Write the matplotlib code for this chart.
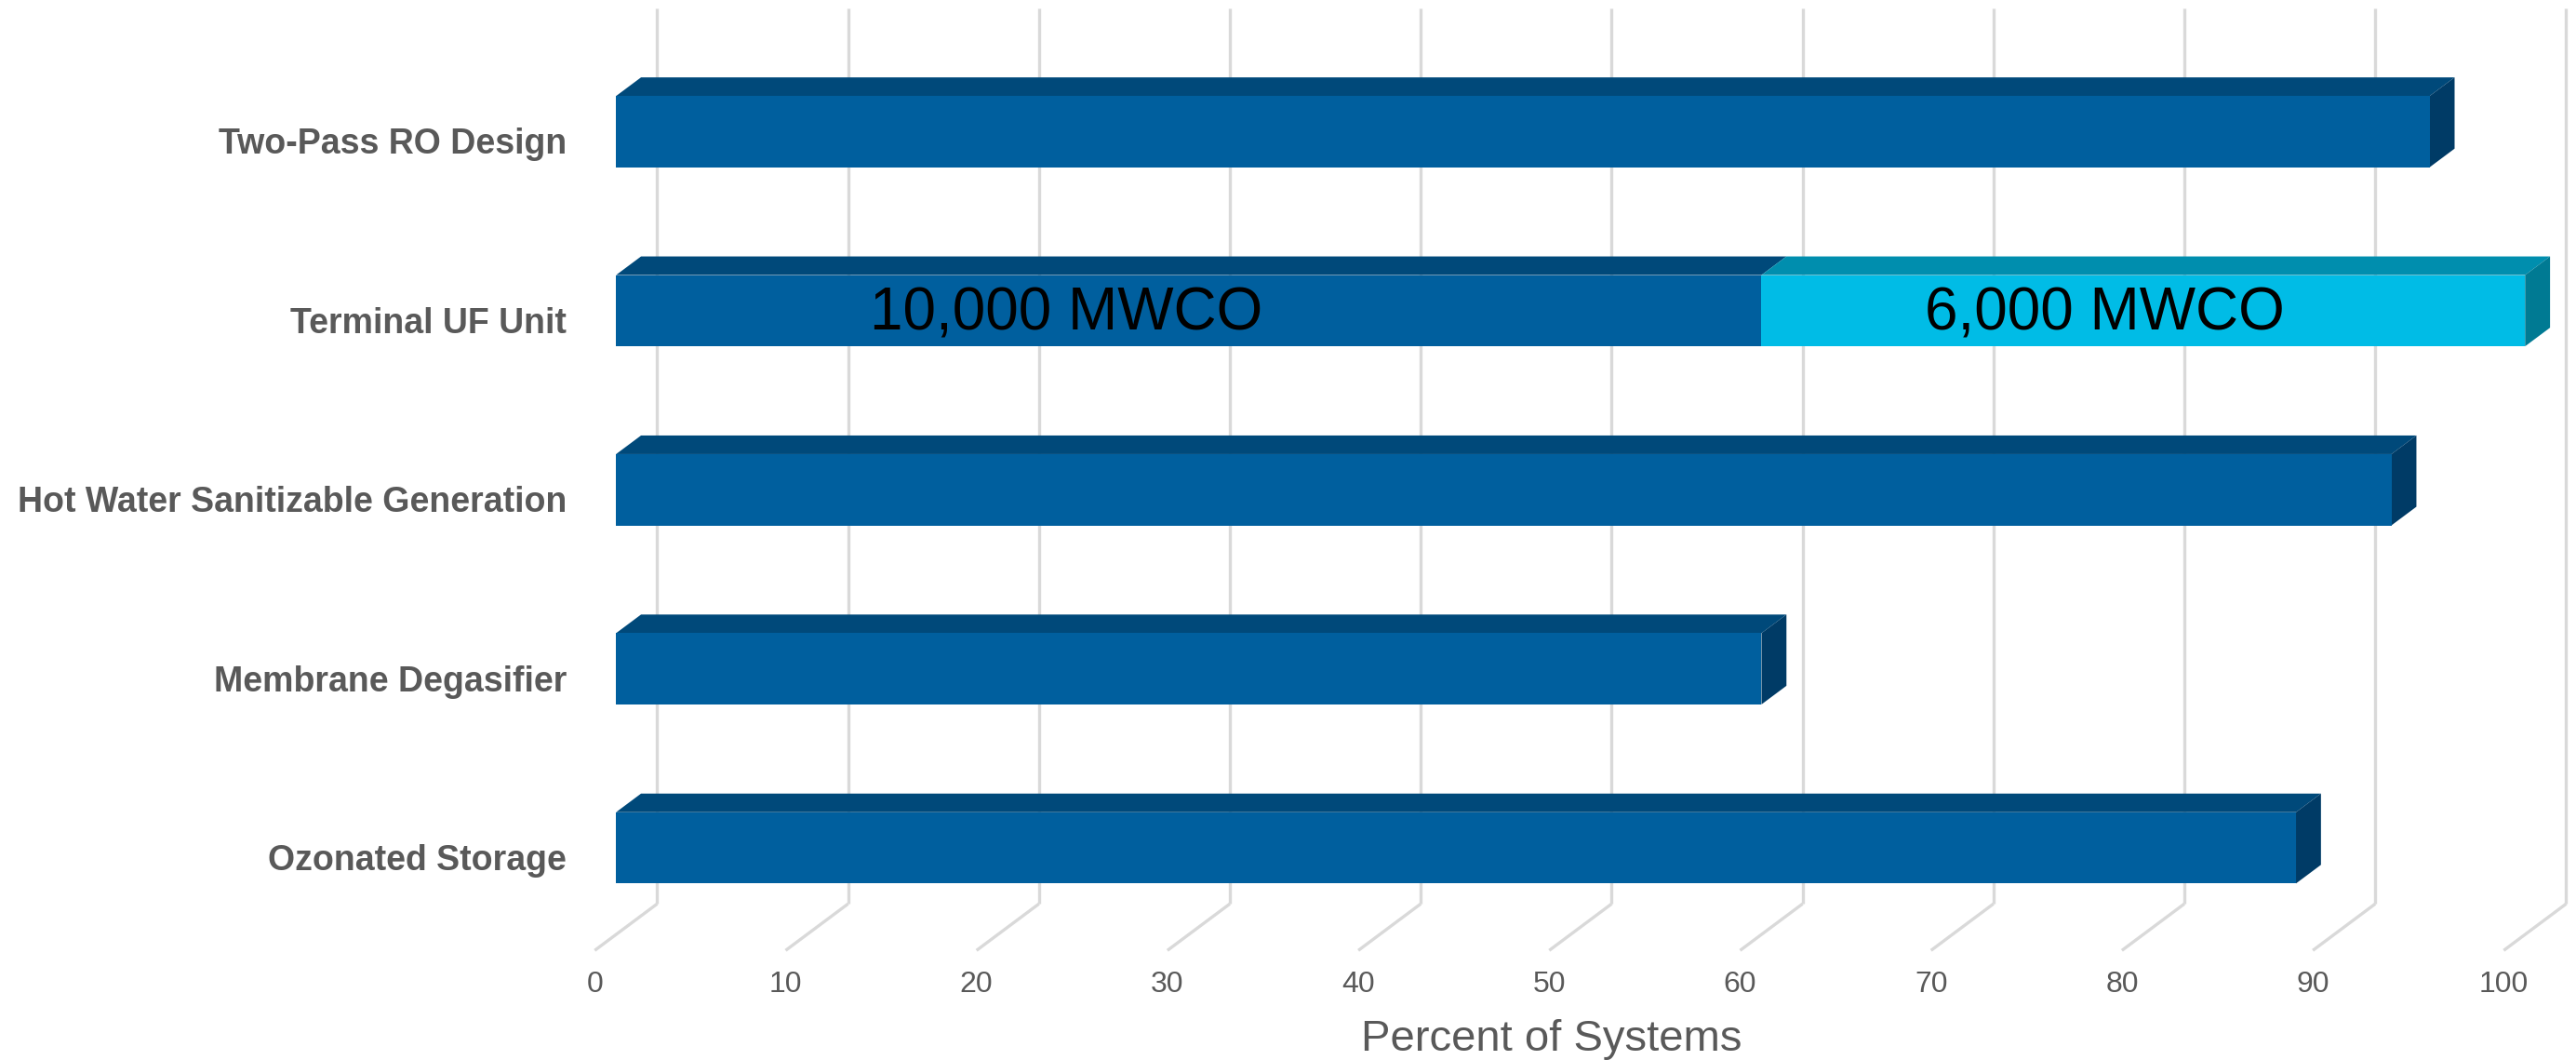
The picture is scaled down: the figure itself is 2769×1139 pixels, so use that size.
import matplotlib
matplotlib.use("Agg")
import matplotlib.pyplot as plt
from matplotlib.patches import Polygon

# ---------------- data ----------------
categories = ["Two-Pass RO Design", "Terminal UF Unit",
              "Hot Water Sanitizable Generation", "Membrane Degasifier",
              "Ozonated Storage"]
series_main = [95, 60, 93, 60, 88]          # dark blue segment
series_extra = [0, 40, 0, 0, 0]             # light blue stacked segment
segment_labels = ["10,000 MWCO", "6,000 MWCO"]
segment_label_x = [23.6, 78.0]
x_ticks = [0, 10, 20, 30, 40, 50, 60, 70, 80, 90, 100]
x_title = "Percent of Systems"

# ---------------- style / geometry ----------------
W, H, DPI = 2769, 1139, 100
C_FRONT, C_TOP, C_SIDE = "#005F9E", "#00497A", "#003B66"
C2_FRONT, C2_TOP, C2_SIDE = "#00BCE6", "#008EAE", "#007A93"
GRID = "#D9D9D9"
TXT = "#595959"
FONT = "Liberation Sans"

DX = 3.27      # horizontal shift (x units) per full floor depth
DY = 0.26      # vertical shift (category units) per full floor depth
D_FRONT, D_BACK = -0.342, 0.658   # floor front / back depth
BAR_DEPTH = 0.40
HALF_H = 0.199
Y_FLOOR = -0.484
Y_GRID_TOP = 4.689

fig = plt.figure(figsize=(W / DPI, H / DPI), dpi=DPI)
ax = fig.add_axes([0, 0, 1, 1])
ax.set_xlim(-375 / 11.62, (1568 - 375) / 11.62)
ax.set_ylim((515.9 - 645) / 108.95, 515.9 / 108.95)
ax.axis("off")

n = len(categories)
ypos = [n - 1 - i for i in range(n)]

# back-wall gridlines and floor lines
for t in x_ticks:
    xb = t + DX * D_BACK
    yb = Y_FLOOR + DY * D_BACK
    ax.plot([xb, xb], [yb, Y_GRID_TOP], color=GRID, lw=2.4,
            solid_capstyle="butt", zorder=1)
    xf = t + DX * D_FRONT
    yf = Y_FLOOR + DY * D_FRONT
    ax.plot([xf, xb], [yf, yb], color=GRID, lw=2.4,
            solid_capstyle="butt", zorder=1)
    ax.text(xf, -0.765, str(t), ha="center", va="center",
            fontsize=23, color=TXT, family=FONT)


def bar3d(x0, x1, yc, cf, ct, cs, side=True):
    dx, dy = DX * BAR_DEPTH, DY * BAR_DEPTH
    yb, yt = yc - HALF_H, yc + HALF_H
    ax.add_patch(Polygon([(x0, yt), (x1, yt), (x1 + dx, yt + dy),
                          (x0 + dx, yt + dy)], closed=True, fc=ct,
                         ec="none", zorder=3))
    if side:
        ax.add_patch(Polygon([(x1, yb), (x1 + dx, yb + dy),
                              (x1 + dx, yt + dy), (x1, yt)], closed=True,
                             fc=cs, ec="none", zorder=3))
    ax.add_patch(Polygon([(x0, yb), (x1, yb), (x1, yt), (x0, yt)],
                         closed=True, fc=cf, ec="none", zorder=4))


for i, (cat, v1, v2) in enumerate(zip(categories, series_main, series_extra)):
    y = ypos[i]
    bar3d(0, v1, y, C_FRONT, C_TOP, C_SIDE, side=(v2 == 0))
    if v2 > 0:
        bar3d(v1, v1 + v2, y, C2_FRONT, C2_TOP, C2_SIDE)
        ax.text(segment_label_x[0], y - 0.02, segment_labels[0], ha="center",
                va="center", fontsize=46, color="black", family=FONT,
                zorder=6)
        ax.text(segment_label_x[1], y - 0.02, segment_labels[1], ha="center",
                va="center", fontsize=46, color="black", family=FONT,
                zorder=6)
    ax.text(-2.58, y - 0.073, cat, ha="right", va="center", fontsize=27,
            fontweight="bold", color=TXT, family=FONT)

ax.text(49.0, -1.07, x_title, ha="center", va="center", fontsize=34,
        color=TXT, family=FONT)

fig.savefig("out.png", dpi=DPI)
